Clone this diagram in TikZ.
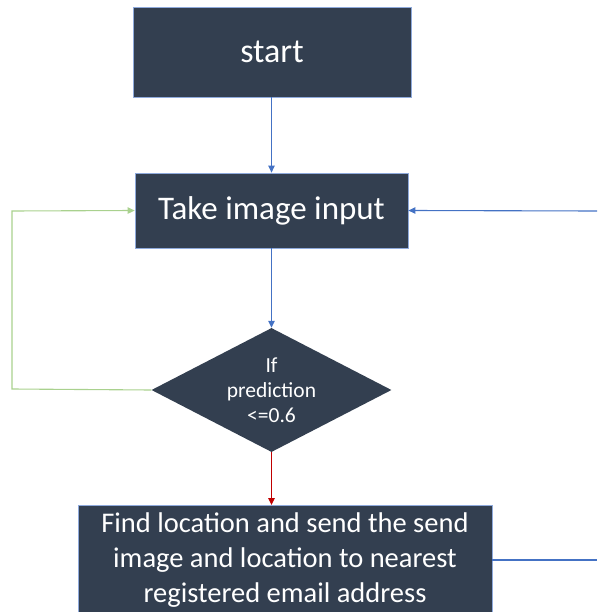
\documentclass[tikz,border=0pt]{standalone}
\usepackage{fontspec}
\setmainfont{Carlito}
\usetikzlibrary{shapes.geometric,arrows.meta}
\definecolor{boxfill}{HTML}{333F50}
\definecolor{boxedge}{HTML}{8FAADC}
\definecolor{linkblue}{HTML}{4472C4}
\definecolor{linkgreen}{HTML}{A9D18E}
\definecolor{linkred}{HTML}{C00000}
\begin{document}
\begin{tikzpicture}[x=1pt,y=1pt,
  procbox/.style={draw=boxedge,line width=0.8pt,fill=boxfill,text=white,inner sep=0pt,align=center},
  decbox/.style={diamond,fill=boxfill,inner sep=0pt},
  dectext/.style={text=white,inner sep=0pt,align=center,font=\fontsize{21.5}{25}\selectfont},
  flow/.style={line width=1.1pt,-{Triangle[length=7pt,width=6.5pt]}},
]
\useasboundingbox (0,0) rectangle (597,-612);
\node[procbox,minimum width=278pt,minimum height=90pt,font=\fontsize{34}{40}\selectfont] (start) at (272,-52) {start};
\node[procbox,minimum width=273pt,minimum height=75pt,font=\fontsize{33}{40}\selectfont] (take) at (271.5,-210.5) {Take image input};
\node[decbox,minimum width=240pt,minimum height=124pt] (dec) at (271.5,-390) {};
\node[dectext] (dect) at (dec.center) {If\\prediction\\<=0.6};
\node[procbox,minimum width=414pt,minimum height=110pt,font=\fontsize{28.5}{35}\selectfont,anchor=north] (find) at (285,-505) {Find location and send the send\\image and location to nearest\\registered email address};
\coordinate (gl) at (12,-389);
\coordinate (gt) at (12,-211);
\coordinate (rin) at (597,-211);
\coordinate (rout) at (597,-560);
\draw[flow,draw=linkblue] (start.south -| take.north) -- (take.north);
\draw[flow,draw=linkblue] (take.south) -- (dec.north);
\draw[flow,draw=linkred] (dec.south) -- (dec.south |- find.north);
\draw[flow,draw=linkgreen] (dec.west) -- (gl) -- (gt) -- (take.west);
\draw[flow,draw=linkblue] (rin) -- (take.east);
\draw[line width=1.1pt,draw=linkblue] (find.east |- rout) -- (rout);
\end{tikzpicture}
\end{document}
